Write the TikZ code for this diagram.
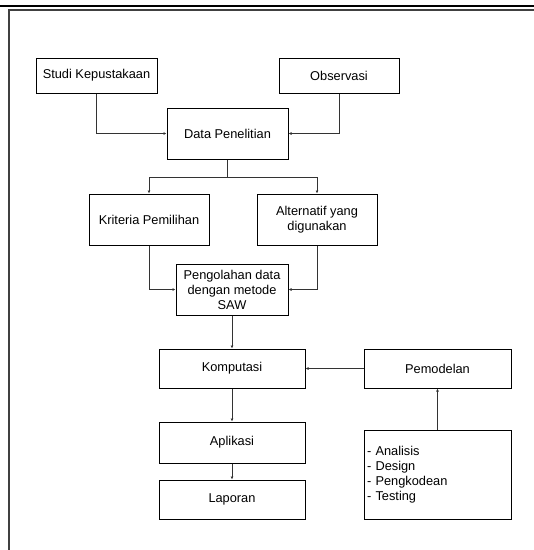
\documentclass[tikz,border=0pt]{standalone}
\usepackage{fontspec}
\setmainfont{Liberation Sans}
\usetikzlibrary{arrows.meta,positioning}
\tikzset{
  kotak/.style={
    draw,
    rectangle,
    line width=1pt,
    inner sep=0pt,
    align=center,
    font=\fontsize{12.8}{15}\selectfont
  },
  alur/.style={-{Latex[length=3pt,width=3pt]},line width=0.9pt,draw=black!80},
  garis/.style={line width=0.9pt,draw=black!80}
}
\begin{document}
\begin{tikzpicture}[x=1pt,y=-1pt]
\useasboundingbox (0,0) rectangle (534,550);

% Garis kepala dan bingkai
\draw[line width=1.4pt] (0,6) -- (534,6);
\draw[line width=1.3pt,draw=black!75] (9,550) -- (9,10) -- (534,10);

% Sumber data
\node[kotak, minimum width=121pt, minimum height=35pt] (studi) at (96.5,75.5)
  {Studi Kepustakaan};
\node[kotak, minimum width=120pt, minimum height=35pt] (observasi) at (339,75.5)
  {Observasi};
\node[kotak, minimum width=121pt, minimum height=51pt] (data) at (227.5,133.5)
  {Data Penelitian};

% Kriteria dan alternatif
\node[kotak, minimum width=120pt, minimum height=51pt] (kriteria) at (149,219.5)
  {Kriteria Pemilihan};
\node[kotak, minimum width=120pt, minimum height=51pt] (alternatif) at (317,219.5)
  {Alternatif yang\\digunakan};
\node[kotak, minimum width=112pt, minimum height=51pt] (olah) at (232,289.5)
  {Pengolahan data\\dengan metode\\SAW};

% Komputasi sampai laporan
\node[kotak, minimum width=146pt, minimum height=39pt] (komputasi) at (232,368.5)
  {Komputasi};
\node[kotak, minimum width=146pt, minimum height=41pt] (aplikasi) at (232,442.5)
  {Aplikasi};
\node[kotak, minimum width=146pt, minimum height=39pt] (laporan) at (232,499.5)
  {Laporan};

% Pemodelan
\node[kotak, minimum width=147pt, minimum height=39pt] (pemodelan) at (437.5,368.5)
  {Pemodelan};
\node[kotak, minimum height=89pt, text width=141pt, inner xsep=3pt, align=left]
  (tahap) at (437.5,474.5)
  {- Analisis\\- Design\\- Pengkodean\\- Testing};

% Alur
\draw[alur] (studi.south) |- (data.west);
\draw[alur] (observasi.south) |- (data.east);

\coordinate (cabang) at (227.5,177);
\draw[garis] (data.south) -- (cabang);
\draw[alur] (cabang) -| (kriteria.north);
\draw[alur] (cabang) -| (alternatif.north);

\draw[alur] (kriteria.south) |- (olah.west);
\draw[alur] (alternatif.south) |- (olah.east);
\draw[alur] (olah.south) -- (komputasi.north);

\draw[alur] (pemodelan.west) -- (komputasi.east);
\draw[alur] (tahap.north) -- (pemodelan.south);
\draw[alur] (komputasi.south) -- (aplikasi.north);
\draw[alur] (aplikasi.south) -- (laporan.north);

\end{tikzpicture}
\end{document}
